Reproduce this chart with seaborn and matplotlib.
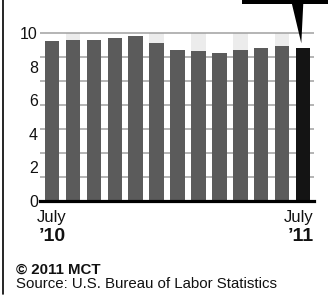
import numpy as np
import pandas as pd
import seaborn as sns
import matplotlib.pyplot as plt
from matplotlib.patches import Polygon, Rectangle

# data: monthly unemployment rate, July 2010 - July 2011
months = ["Jul '10", "Aug", "Sep", "Oct", "Nov", "Dec", "Jan", "Feb", "Mar", "Apr", "May", "Jun", "Jul '11"]
rate = [9.5, 9.6, 9.6, 9.7, 9.8, 9.4, 9.0, 8.9, 8.8, 9.0, 9.1, 9.2, 9.1]
shade_months = ["Aug", "Dec", "Feb", "Apr", "Jun"]
y_labels = [0, 2, 4, 6, 8, 10]

barcolor = "#5b5b5b"
lastcolor = "#141414"
shadecolor = "#ececec"
gridcolor = "#a0a0a0"
textcolor = "#111111"

sns.set_theme(style="white")
plt.rcParams['font.family'] = ['Liberation Sans', 'DejaVu Sans']

W, H = 330, 297
fig = plt.figure(figsize=(W / 100, H / 100), dpi=100)
fig.patch.set_facecolor("white")

# axes: x 40..314 px, y 0 at 201 px, 10 at 33 px
ymax = 10.5
px_per_unit = (201 - 33) / 10
top_px = 201 - ymax * px_per_unit
ax_h = 201 - top_px
ax = fig.add_axes([40 / W, (H - 201) / H, 274 / W, ax_h / H])
ax.set_facecolor("white")

df = pd.DataFrame({"month": months, "rate": rate})
df["shade"] = [max(y_labels) if m in shade_months else 0 for m in months]
colors = [barcolor] * (len(months) - 1) + [lastcolor]

# light columns behind some bars
sns.barplot(data=df, x="month", y="shade", color=shadecolor, saturation=1,
            width=0.7, ax=ax, zorder=1)
sns.barplot(data=df, x="month", y="rate", hue="month", palette=colors,
            saturation=1, width=0.7, legend=False, ax=ax, zorder=2)
for p in ax.patches:
    p.set_linewidth(0)

# gridlines (7 even steps, not aligned with the labels)
ax.hlines(np.linspace(0, max(y_labels), 8)[1:], 0, 1, transform=ax.get_yaxis_transform(),
          colors=gridcolor, linewidth=1.1, zorder=1.5)

ax.set_xlim(-0.58, len(months) - 1 + 0.53)
ax.set_ylim(0, ymax)
ax.set_yticks(y_labels)
ax.grid(False)
ax.tick_params(axis="y", length=0, pad=1.5, labelsize=11.5, labelcolor=textcolor)
ax.set_xticks([])
ax.set_xlabel("")
ax.set_ylabel("")
for s in ["top", "left", "right"]:
    ax.spines[s].set_visible(False)
ax.spines["bottom"].set_color("black")
ax.spines["bottom"].set_linewidth(2.3)
ax.spines["bottom"].set_zorder(3)

# x-axis end labels
tr = ax.get_xaxis_transform()
y1 = (201 - 222) / ax_h
y2 = (201 - 241) / ax_h
xr = len(months) - 1 + 0.53
ax.text(0, y1, "July", transform=tr, ha="center", va="baseline", fontsize=12, color=textcolor)
ax.text(0, y2, "\u201910", transform=tr, ha="center", va="baseline", fontsize=14, fontweight="bold", color=textcolor)
ax.text(xr, y1, "July", transform=tr, ha="right", va="baseline", fontsize=12, color=textcolor)
ax.text(xr, y2, "\u201911", transform=tr, ha="right", va="baseline", fontsize=14, fontweight="bold", color=textcolor)

# credits
fig.text(16 / W, 1 - 274 / H, "\u00a9 2011 MCT", ha="left", va="baseline", fontsize=10.8, fontweight="bold", color=textcolor)
fig.text(16 / W, 1 - 288.5 / H, "Source: U.S. Bureau of Labor Statistics", ha="left", va="baseline", fontsize=10.8, color=textcolor)

# left border line
fig.add_artist(plt.Line2D([3.3 / W, 3.3 / W], [1, 1 - 294 / H], color="black", linewidth=1.2))

# callout box + pointer at top right
fig.add_artist(Rectangle((241.7 / W, 1 - 4 / H), (328 - 241.7) / W, 4 / H,
                         transform=fig.transFigure, facecolor="black", edgecolor="none"))
fig.add_artist(Polygon([(291.7 / W, 1 - 3 / H), (303.3 / W, 1 - 3 / H), (301.3 / W, 1 - 43.3 / H)],
                       closed=True, transform=fig.transFigure, facecolor="black", edgecolor="none"))

fig.savefig("out.png", dpi=100)
